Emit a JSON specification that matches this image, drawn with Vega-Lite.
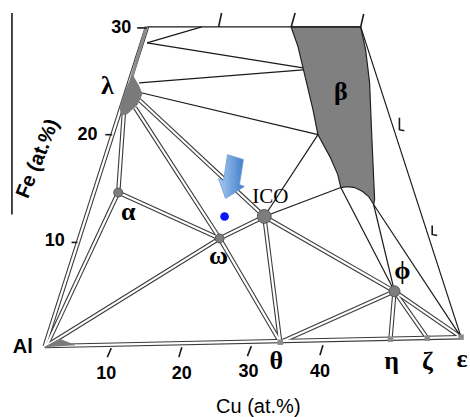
{
  "$schema": "https://vega.github.io/schema/vega-lite/v6.json",
  "width": 470,
  "height": 417,
  "padding": 0,
  "autosize": {"type": "fit", "contains": "padding"},
  "background": "white",
  "config": {"view": {"stroke": null}},
  "datasets": {
    "dbl": [
      {"id": "d1", "o": 0, "x": 0, "y": 0}, {"id": "d1", "o": 1, "x": 14.71, "y": 32.0},
      {"id": "d2", "o": 0, "x": 0, "y": 0}, {"id": "d2", "o": 1, "x": 59.86, "y": 0.9},
      {"id": "d3", "o": 0, "x": 11.43, "y": 23.9}, {"id": "d3", "o": 1, "x": 10.57, "y": 15.4},
      {"id": "d4", "o": 0, "x": 13.0, "y": 23.9}, {"id": "d4", "o": 1, "x": 25.14, "y": 10.8},
      {"id": "d5", "o": 0, "x": 13.57, "y": 24.7}, {"id": "d5", "o": 1, "x": 31.57, "y": 13.0},
      {"id": "d6", "o": 0, "x": 10.57, "y": 15.4}, {"id": "d6", "o": 1, "x": 25.14, "y": 10.8},
      {"id": "d7", "o": 0, "x": 10.57, "y": 15.4}, {"id": "d7", "o": 1, "x": 0.3, "y": 0.1},
      {"id": "d8", "o": 0, "x": 25.14, "y": 10.8}, {"id": "d8", "o": 1, "x": 0.4, "y": 0.1},
      {"id": "d9", "o": 0, "x": 25.14, "y": 10.8}, {"id": "d9", "o": 1, "x": 31.57, "y": 13.0},
      {"id": "d10", "o": 0, "x": 25.14, "y": 10.8}, {"id": "d10", "o": 1, "x": 33.86, "y": 0.4},
      {"id": "d11", "o": 0, "x": 31.57, "y": 13.0}, {"id": "d11", "o": 1, "x": 33.86, "y": 0.4},
      {"id": "d12", "o": 0, "x": 31.57, "y": 13.0}, {"id": "d12", "o": 1, "x": 50.29, "y": 5.5},
      {"id": "d13", "o": 0, "x": 33.86, "y": 0.4}, {"id": "d13", "o": 1, "x": 50.29, "y": 5.5},
      {"id": "d14", "o": 0, "x": 50.29, "y": 5.5}, {"id": "d14", "o": 1, "x": 49.71, "y": 0.7},
      {"id": "d15", "o": 0, "x": 50.29, "y": 5.5}, {"id": "d15", "o": 1, "x": 55.0, "y": 0.8},
      {"id": "d16", "o": 0, "x": 50.29, "y": 5.5}, {"id": "d16", "o": 1, "x": 59.86, "y": 0.9}
    ],
    "sgl": [
      {"id": "s1", "o": 0, "x": 14.71, "y": 32.0}, {"id": "s1", "o": 1, "x": 45.43, "y": 32.0},
      {"id": "s2", "o": 0, "x": 45.43, "y": 32.0}, {"id": "s2", "o": 1, "x": 59.86, "y": 0.9},
      {"id": "s3", "o": 0, "x": 14.71, "y": 30.4}, {"id": "s3", "o": 1, "x": 22.57, "y": 32.0},
      {"id": "s4", "o": 0, "x": 14.71, "y": 30.4}, {"id": "s4", "o": 1, "x": 37.14, "y": 27.9},
      {"id": "s5", "o": 0, "x": 13.57, "y": 26.4}, {"id": "s5", "o": 1, "x": 37.14, "y": 27.7},
      {"id": "s6", "o": 0, "x": 13.86, "y": 25.4}, {"id": "s6", "o": 1, "x": 39.29, "y": 21.2},
      {"id": "s7", "o": 0, "x": 31.57, "y": 13.0}, {"id": "s7", "o": 1, "x": 39.29, "y": 21.2},
      {"id": "s8", "o": 0, "x": 31.57, "y": 13.0}, {"id": "s8", "o": 1, "x": 42.57, "y": 15.9},
      {"id": "s9", "o": 0, "x": 42.57, "y": 15.9}, {"id": "s9", "o": 1, "x": 50.29, "y": 5.5},
      {"id": "s10", "o": 0, "x": 47.29, "y": 14.2}, {"id": "s10", "o": 1, "x": 50.29, "y": 5.5},
      {"id": "s11", "o": 0, "x": 47.29, "y": 14.2}, {"id": "s11", "o": 1, "x": 59.86, "y": 0.9}
    ],
    "ticks": [
      {"id": "t1", "o": 0, "x": 13.29, "y": 31.9}, {"id": "t1", "o": 1, "x": 14.71, "y": 31.9},
      {"id": "t2", "o": 0, "x": 8.71, "y": 21.2}, {"id": "t2", "o": 1, "x": 9.71, "y": 21.2},
      {"id": "t3", "o": 0, "x": 3.86, "y": 10.4}, {"id": "t3", "o": 1, "x": 4.71, "y": 10.4},
      {"id": "t4", "o": 0, "x": 9.57, "y": -0.2}, {"id": "t4", "o": 1, "x": 9.0, "y": -1.1},
      {"id": "t5", "o": 0, "x": 19.71, "y": -0.1}, {"id": "t5", "o": 1, "x": 19.29, "y": -1.1},
      {"id": "t6", "o": 0, "x": 29.71, "y": 0.0}, {"id": "t6", "o": 1, "x": 29.14, "y": -1.0},
      {"id": "t7", "o": 0, "x": 40.0, "y": 0.1}, {"id": "t7", "o": 1, "x": 39.57, "y": -0.9},
      {"id": "t8", "o": 0, "x": 25.43, "y": 33.4}, {"id": "t8", "o": 1, "x": 25.0, "y": 32.0},
      {"id": "t9", "o": 0, "x": 36.0, "y": 33.4}, {"id": "t9", "o": 1, "x": 35.43, "y": 32.0},
      {"id": "t10", "o": 0, "x": 45.86, "y": 33.3}, {"id": "t10", "o": 1, "x": 45.43, "y": 32.0},
      {"id": "t11", "o": 0, "x": 51.0, "y": 22.9}, {"id": "t11", "o": 1, "x": 51.0, "y": 21.7}, {"id": "t11", "o": 2, "x": 51.71, "y": 21.6},
      {"id": "t12", "o": 0, "x": 55.71, "y": 12.1}, {"id": "t12", "o": 1, "x": 55.71, "y": 11.2}, {"id": "t12", "o": 2, "x": 56.43, "y": 11.1},
      {"id": "t13", "o": 0, "x": -4.71, "y": 33.4}, {"id": "t13", "o": 1, "x": -4.71, "y": 13.2}
    ],
    "beta": [
      {"o": 0, "x": 35.43, "y": 32.0}, {"o": 1, "x": 36.43, "y": 30.0}, {"o": 2, "x": 37.14, "y": 27.9},
      {"o": 3, "x": 38.57, "y": 23.7}, {"o": 4, "x": 39.29, "y": 21.2}, {"o": 5, "x": 41.0, "y": 19.0},
      {"o": 6, "x": 42.14, "y": 17.2}, {"o": 7, "x": 42.57, "y": 15.9}, {"o": 8, "x": 43.57, "y": 16.0},
      {"o": 9, "x": 44.57, "y": 15.9}, {"o": 10, "x": 45.71, "y": 15.5}, {"o": 11, "x": 46.57, "y": 15.0},
      {"o": 12, "x": 47.29, "y": 14.2}, {"o": 13, "x": 47.43, "y": 14.7}, {"o": 14, "x": 47.0, "y": 21.4},
      {"o": 15, "x": 46.71, "y": 26.4}, {"o": 16, "x": 46.14, "y": 29.7}, {"o": 17, "x": 45.43, "y": 32.0},
      {"o": 18, "x": 35.43, "y": 32.0}
    ],
    "strip": [
      {"o": 0, "x": 14.57, "y": 31.9}, {"o": 1, "x": 12.43, "y": 26.7}
    ],
    "blobs": [
      {"id": "lambda", "o": 0, "x": 12.57, "y": 27.2}, {"id": "lambda", "o": 1, "x": 13.43, "y": 26.2},
      {"id": "lambda", "o": 2, "x": 14.0, "y": 25.3}, {"id": "lambda", "o": 3, "x": 13.29, "y": 24.2},
      {"id": "lambda", "o": 4, "x": 11.86, "y": 23.3}, {"id": "lambda", "o": 5, "x": 11.0, "y": 23.2},
      {"id": "lambda", "o": 6, "x": 10.86, "y": 24.0}, {"id": "lambda", "o": 7, "x": 11.57, "y": 25.5},
      {"id": "lambda", "o": 8, "x": 12.43, "y": 26.9},
      {"id": "al", "o": 0, "x": 0.0, "y": -0.1}, {"id": "al", "o": 1, "x": 2.14, "y": 0.7},
      {"id": "al", "o": 2, "x": 4.29, "y": 0.1}
    ],
    "arrow": [
      {"o": 0, "x": 26.29, "y": 19.2}, {"o": 1, "x": 28.57, "y": 18.7}, {"o": 2, "x": 28.0, "y": 16.2},
      {"o": 3, "x": 28.71, "y": 16.0}, {"o": 4, "x": 26.0, "y": 14.8}, {"o": 5, "x": 25.0, "y": 16.8},
      {"o": 6, "x": 25.71, "y": 16.6}, {"o": 7, "x": 26.29, "y": 19.2}
    ],
    "nodeBig": [{"name": "ICO", "x": 31.57, "y": 13.0}],
    "nodeMid": [{"name": "ϕ", "x": 50.29, "y": 5.5}],
    "nodeSmall": [{"name": "α", "x": 10.57, "y": 15.4}, {"name": "ω", "x": 25.14, "y": 10.8}],
    "nodeTiny": [
      {"name": "θ", "x": 33.86, "y": 0.4}, {"name": "η", "x": 49.71, "y": 0.7},
      {"name": "ζ", "x": 55.0, "y": 0.8}, {"name": "ε", "x": 59.86, "y": 0.9}
    ],
    "sample": [{"name": "sample", "x": 25.86, "y": 13.0}],
    "greek": [
      {"t": "λ", "x": 9.0, "y": 26.1}, {"t": "α", "x": 12.0, "y": 13.4}, {"t": "ω", "x": 25.0, "y": 9.0},
      {"t": "β", "x": 42.57, "y": 25.5}, {"t": "ϕ", "x": 51.43, "y": 7.5}, {"t": "θ", "x": 33.29, "y": -1.5},
      {"t": "η", "x": 49.86, "y": -1.5}, {"t": "ζ", "x": 55.0, "y": -1.6}, {"t": "ε", "x": 60.0, "y": -1.3}
    ],
    "ico": [{"t": "ICO", "x": 32.43, "y": 15.0}],
    "tickLabels": [
      {"t": "30", "x": 11.0, "y": 31.9}, {"t": "20", "x": 6.14, "y": 21.2}, {"t": "10", "x": 1.43, "y": 10.5},
      {"t": "10", "x": 8.86, "y": -2.8}, {"t": "20", "x": 19.71, "y": -2.8}, {"t": "30", "x": 29.29, "y": -2.6},
      {"t": "40", "x": 39.57, "y": -2.6}
    ],
    "alLabel": [{"t": "Al", "x": -3.14, "y": -0.1}],
    "cuTitle": [{"t": "Cu (at.%)", "x": 30.71, "y": -6.1}],
    "feTitle": [{"t": "Fe (at.%)", "x": -1.0, "y": 18.8}]
  },
  "encoding": {
    "x": {"field": "x", "type": "quantitative", "scale": {"domain": [-6.4286, 60.7143], "nice": false, "zero": false}, "axis": null},
    "y": {"field": "y", "type": "quantitative", "scale": {"domain": [-7.0, 34.7], "nice": false, "zero": false}, "axis": null}
  },
  "layer": [
    {"data": {"name": "beta"}, "mark": {"type": "line", "fill": "#808080", "stroke": "#222222", "strokeWidth": 1.2}, "encoding": {"order": {"field": "o", "type": "quantitative"}}},
    {"data": {"name": "dbl"}, "mark": {"type": "line", "stroke": "#3a3a3a", "strokeWidth": 4.4, "strokeCap": "butt"}, "encoding": {"detail": {"field": "id"}, "order": {"field": "o", "type": "quantitative"}}},
    {"data": {"name": "dbl"}, "mark": {"type": "line", "stroke": "#ffffff", "strokeWidth": 2.2, "strokeCap": "butt"}, "encoding": {"detail": {"field": "id"}, "order": {"field": "o", "type": "quantitative"}}},
    {"data": {"name": "strip"}, "mark": {"type": "line", "stroke": "#8a8a8a", "strokeWidth": 3}, "encoding": {"order": {"field": "o", "type": "quantitative"}}},
    {"data": {"name": "sgl"}, "mark": {"type": "line", "stroke": "#1a1a1a", "strokeWidth": 1.2}, "encoding": {"detail": {"field": "id"}, "order": {"field": "o", "type": "quantitative"}}},
    {"data": {"name": "ticks"}, "mark": {"type": "line", "stroke": "#1a1a1a", "strokeWidth": 1.6}, "encoding": {"detail": {"field": "id"}, "order": {"field": "o", "type": "quantitative"}}},
    {"data": {"name": "blobs"}, "mark": {"type": "line", "fill": "#7a7a7a", "stroke": "#7a7a7a", "strokeWidth": 1}, "encoding": {"detail": {"field": "id"}, "order": {"field": "o", "type": "quantitative"}}},
    {"data": {"name": "nodeBig"}, "mark": {"type": "point", "shape": "circle", "filled": true, "size": 190, "fill": "#7d7d7d", "stroke": "#555555", "strokeWidth": 1, "opacity": 1}},
    {"data": {"name": "nodeMid"}, "mark": {"type": "point", "shape": "circle", "filled": true, "size": 120, "fill": "#7d7d7d", "stroke": "#555555", "strokeWidth": 1, "opacity": 1}},
    {"data": {"name": "nodeSmall"}, "mark": {"type": "point", "shape": "circle", "filled": true, "size": 80, "fill": "#7d7d7d", "stroke": "#555555", "strokeWidth": 1, "opacity": 1}},
    {"data": {"name": "nodeTiny"}, "mark": {"type": "point", "shape": "square", "filled": true, "size": 30, "fill": "#8c8c8c", "opacity": 1}},
    {"data": {"name": "arrow"}, "mark": {"type": "line", "strokeWidth": 0.8, "stroke": "#6a9ad6", "fill": {"gradient": "linear", "x1": 0, "y1": 0, "x2": 1, "y2": 0, "stops": [{"offset": 0, "color": "#a8cbf2"}, {"offset": 1, "color": "#3f7cc8"}]}}, "encoding": {"order": {"field": "o", "type": "quantitative"}}},
    {"data": {"name": "sample"}, "mark": {"type": "point", "shape": "circle", "filled": true, "size": 75, "color": "#0a14ff", "opacity": 1}},
    {"data": {"name": "greek"}, "mark": {"type": "text", "font": "Liberation Serif", "fontWeight": "bold", "fontSize": 26, "align": "center", "baseline": "middle", "color": "#000000"}, "encoding": {"text": {"field": "t"}}},
    {"data": {"name": "ico"}, "mark": {"type": "text", "font": "Liberation Serif", "fontSize": 21, "align": "center", "baseline": "middle", "color": "#000000"}, "encoding": {"text": {"field": "t"}}},
    {"data": {"name": "tickLabels"}, "mark": {"type": "text", "font": "Liberation Sans", "fontWeight": "bold", "fontSize": 18, "align": "center", "baseline": "middle", "color": "#000000"}, "encoding": {"text": {"field": "t"}}},
    {"data": {"name": "alLabel"}, "mark": {"type": "text", "font": "Liberation Sans", "fontWeight": "bold", "fontSize": 20, "align": "center", "baseline": "middle", "color": "#000000"}, "encoding": {"text": {"field": "t"}}},
    {"data": {"name": "cuTitle"}, "mark": {"type": "text", "font": "Liberation Sans", "fontSize": 20, "align": "center", "baseline": "middle", "color": "#000000"}, "encoding": {"text": {"field": "t"}}},
    {"data": {"name": "feTitle"}, "mark": {"type": "text", "font": "Liberation Sans", "fontWeight": "bold", "fontSize": 20, "angle": -68, "align": "center", "baseline": "middle", "color": "#000000"}, "encoding": {"text": {"field": "t"}}}
  ]
}
